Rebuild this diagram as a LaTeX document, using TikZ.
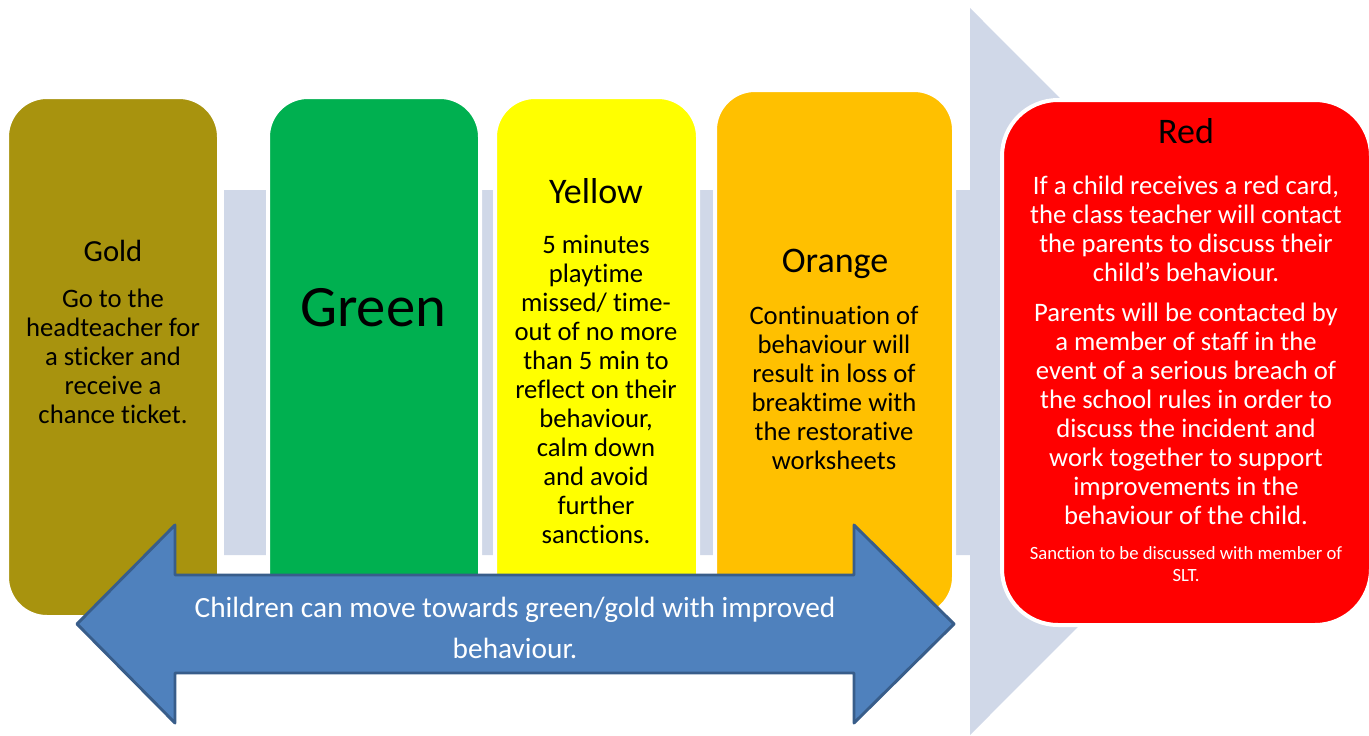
\documentclass[tikz,border=0pt]{standalone}
\usepackage{fontspec}
\setmainfont{Carlito}[Ligatures=NoCommon]
\usepackage{tikz}
\usetikzlibrary{positioning, shapes, calc}
\definecolor{goldcard}{RGB}{168,147,14}
\definecolor{greencard}{RGB}{0,176,80}
\definecolor{yellowcard}{RGB}{255,255,0}
\definecolor{orangecard}{RGB}{255,192,0}
\definecolor{redcard}{RGB}{255,0,0}
\definecolor{bandgrey}{RGB}{208,216,232}
\definecolor{movefill}{RGB}{79,129,189}
\definecolor{moveline}{RGB}{56,93,138}
\tikzstyle{card} = [rectangle, rounded corners=30pt, draw=white, line width=3pt, inner sep=0pt]
\tikzstyle{heading} = [align=center, font=\fontsize{27}{32}\selectfont]
\tikzstyle{body} = [align=center, font=\fontsize{20}{21.75}\selectfont]

\begin{document}
\begin{tikzpicture}[x=0.75pt, y=-0.75pt]
        \useasboundingbox (0,0) rectangle (1369,735);
        % grey arrow behind the cards
        \fill [bandgrey] (224,190) -- (970,190) -- (970,8) -- (1333,371.5) -- (970,735) -- (970,555) -- (224,555) -- cycle;

        \node (gold) [card, fill=goldcard, minimum width=159pt, minimum height=390pt] at (113,357) {};
        \node (green) [card, fill=greencard, minimum width=159pt, minimum height=390pt] at (374,357) {};
        \node (yellow) [card, fill=yellowcard, minimum width=152.25pt, minimum height=390pt] at (596.5,357) {};
        \node (orange) [card, fill=orangecard, minimum width=179.25pt, minimum height=395.25pt] at (834.5,353.5) {};
        \node (red) [card, rounded corners=42pt, fill=redcard, minimum width=276.75pt, minimum height=393.75pt] at (1186.5,362.5) {};

        \node (goldhead) [heading, font=\fontsize{23}{28}\selectfont] at (113,251) {Gold};
        \node (goldtext) [body] at (113,356.5) {Go to the\\headteacher for\\a sticker and\\receive a\\chance ticket.};
        \node (greenhead) [heading, font=\fontsize{44}{50}\selectfont] at (373,308) {Green};
        \node (yellowhead) [heading] at (596,191) {Yellow};
        \node (yellowtext) [body] at (596,389) {5 minutes\\playtime\\missed/ time-\\out of no more\\than 5 min to\\reflect on their\\behaviour,\\calm down\\and avoid\\further\\sanctions.};
        \node (orangehead) [heading] at (835,264) {Orange};
        \node (orangetext) [body] at (834,388) {Continuation of\\behaviour will\\result in loss of\\breaktime with\\the restorative\\worksheets};
        \node (redhead) [heading] at (1186,131) {Red};
        \node (redtext) [body, text=white] at (1186,228.5) {If a child receives a red card,\\the class teacher will contact\\the parents to discuss their\\child’s behaviour.};
        \node (redmeeting) [body, text=white] at (1186,414) {Parents will be contacted by\\a member of staff in the\\event of a serious breach of\\the school rules in order to\\discuss the incident and\\work together to support\\improvements in the\\behaviour of the child.};
        \node (redsmall) [body, text=white, font=\fontsize{14}{16.5}\selectfont] at (1186,564) {Sanction to be discussed with member of\\SLT.};

        % two-way arrow
        \draw [fill=movefill, draw=moveline, line width=2.2pt, line join=round] (77,624) -- (175,525) -- (175,575) -- (854,575) -- (854,525) -- (954,624) -- (854,723) -- (854,673) -- (175,673) -- (175,723) -- cycle;
        \node (movetext) [body, text=white, font=\fontsize{22}{30.75}\selectfont] at (515,627.5) {Children can move towards green/gold with improved\\behaviour.};
\end{tikzpicture}
\end{document}
